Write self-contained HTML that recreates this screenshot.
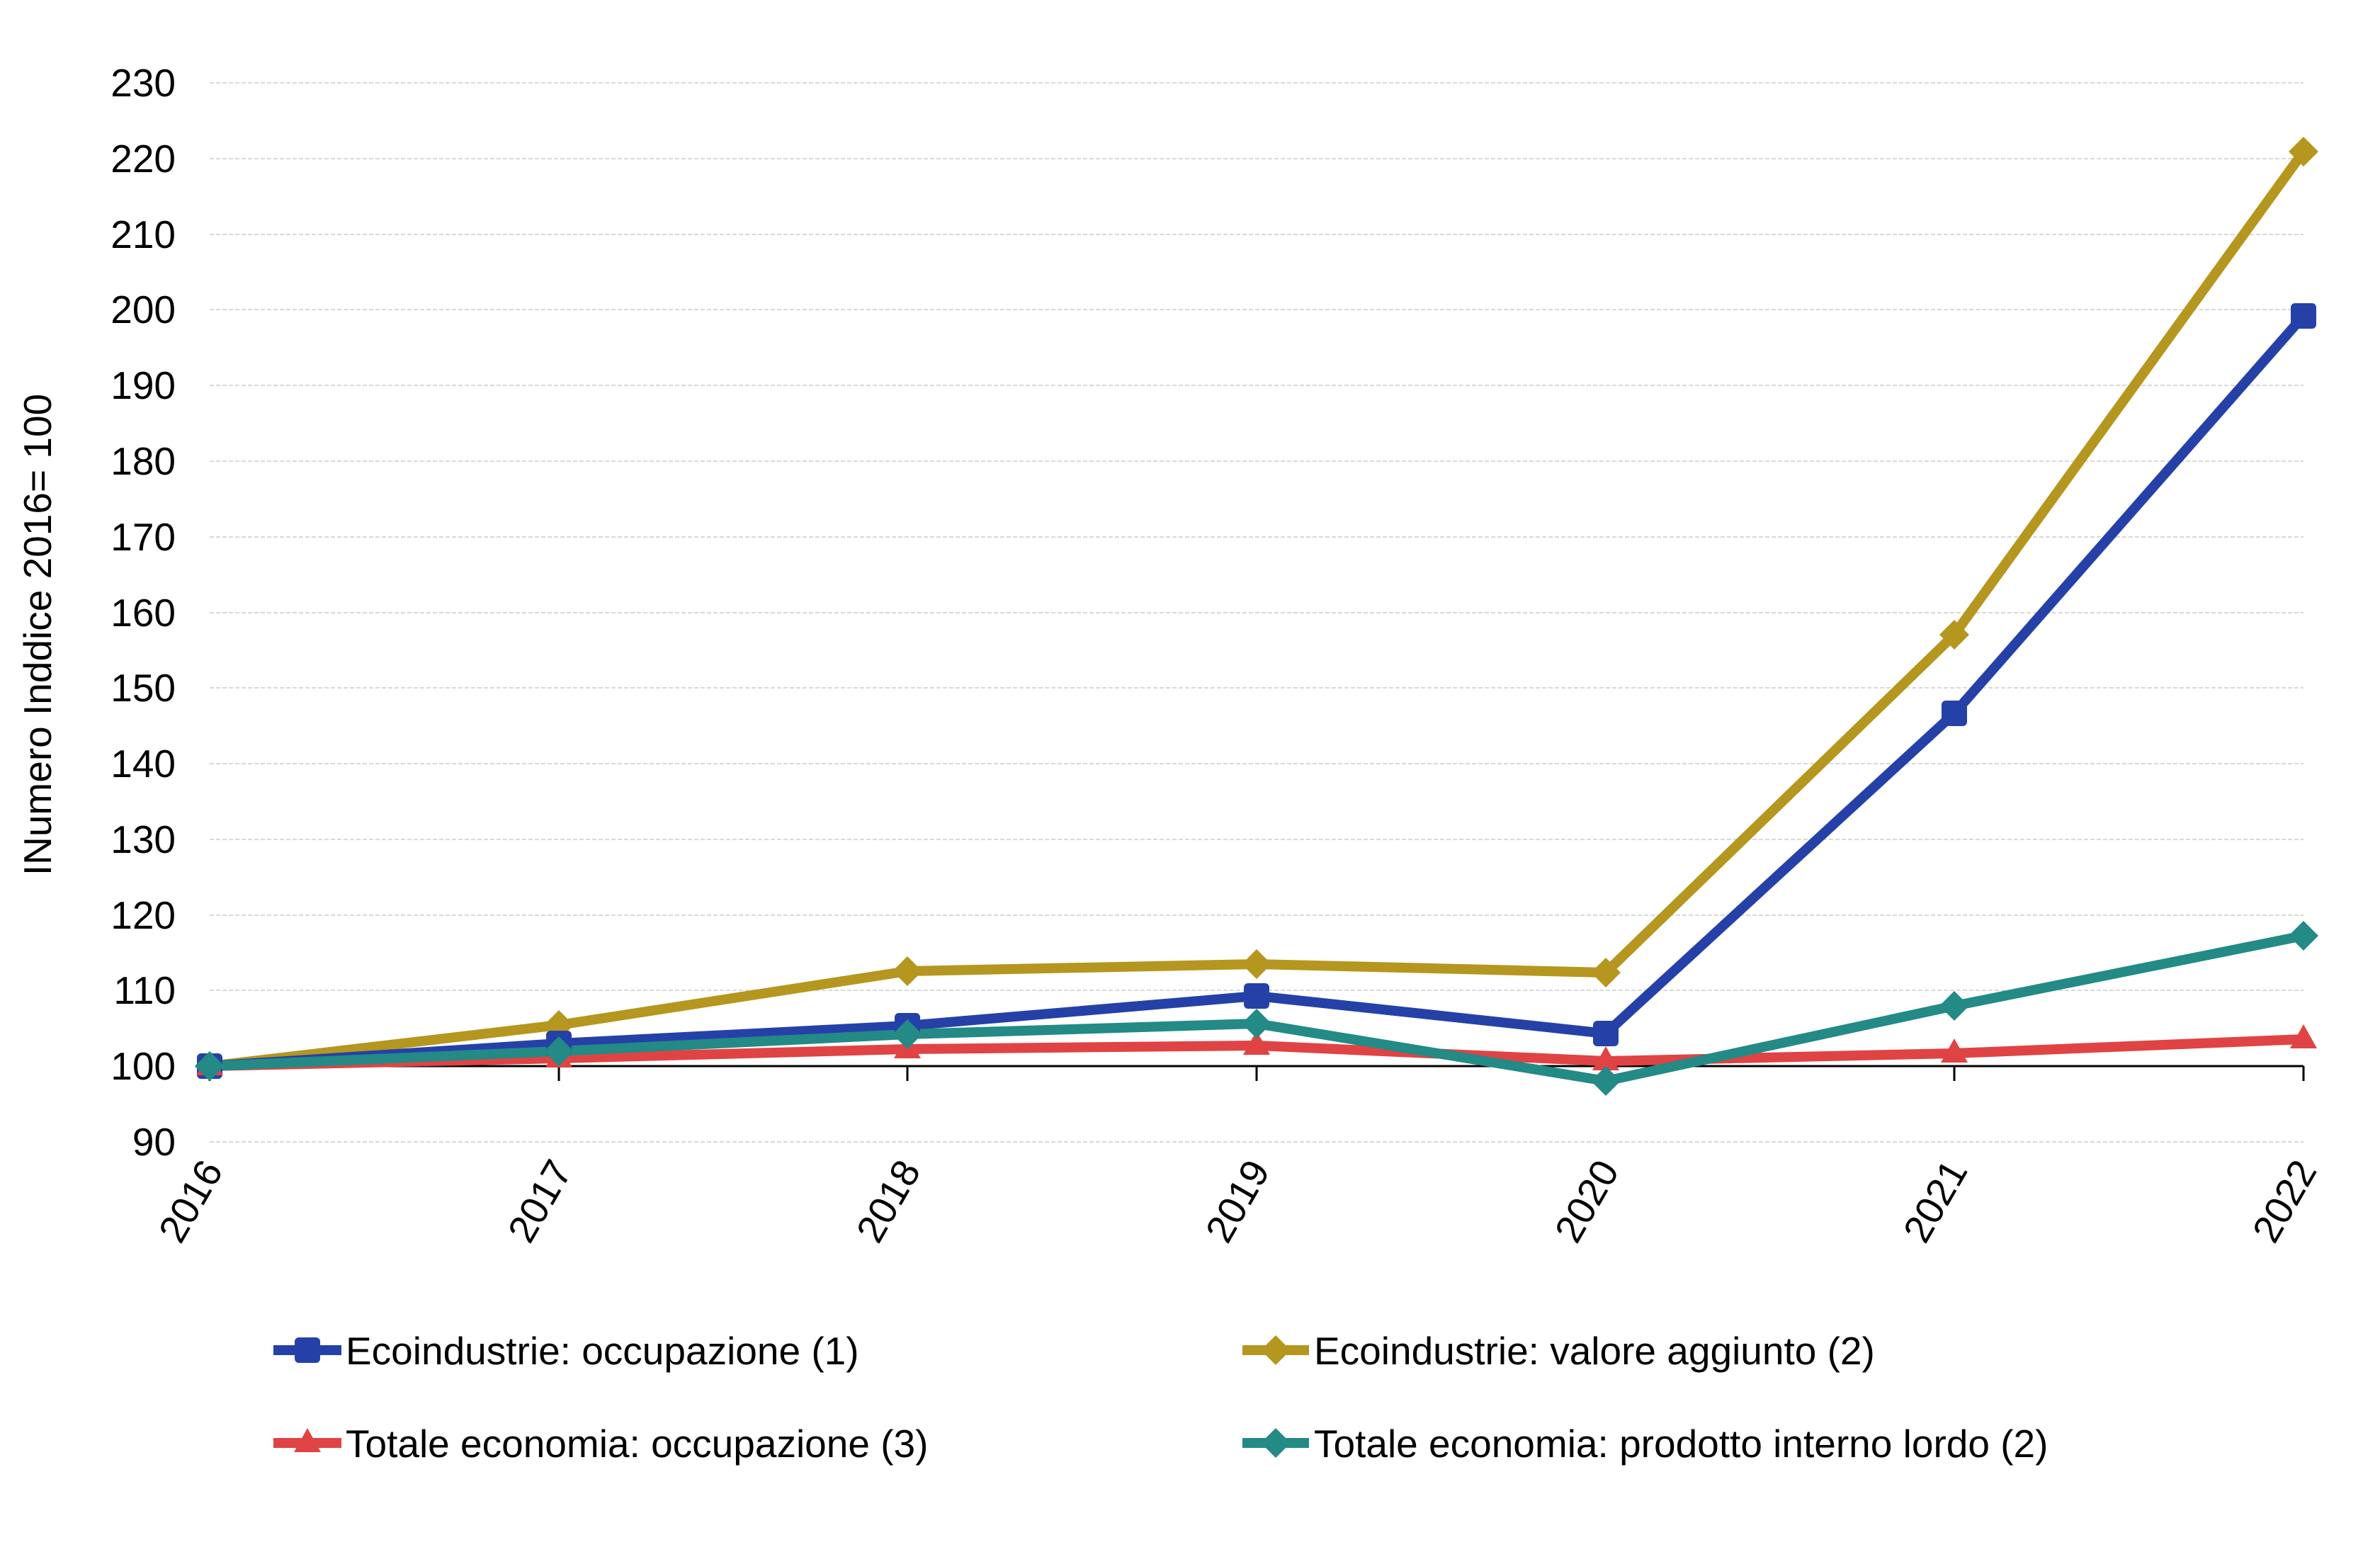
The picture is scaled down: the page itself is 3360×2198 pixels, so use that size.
<!DOCTYPE html>
<html><head><meta charset="utf-8"><style>body{margin:0;background:#fff}svg{display:block}text{font-family:"Liberation Sans",Arial,sans-serif;fill:#000}</style></head><body>
<svg width="3360" height="2198" viewBox="0 0 3360 2198">
<g stroke="#d9d9d9" stroke-width="2" stroke-dasharray="6 3">
<line x1="296" x2="3252" y1="117" y2="117"/><line x1="296" x2="3252" y1="224" y2="224"/><line x1="296" x2="3252" y1="331" y2="331"/><line x1="296" x2="3252" y1="437" y2="437"/><line x1="296" x2="3252" y1="544" y2="544"/><line x1="296" x2="3252" y1="651" y2="651"/><line x1="296" x2="3252" y1="758" y2="758"/><line x1="296" x2="3252" y1="865" y2="865"/><line x1="296" x2="3252" y1="971" y2="971"/><line x1="296" x2="3252" y1="1078" y2="1078"/><line x1="296" x2="3252" y1="1185" y2="1185"/><line x1="296" x2="3252" y1="1292" y2="1292"/><line x1="296" x2="3252" y1="1398" y2="1398"/><line x1="296" x2="3252" y1="1612" y2="1612"/>
</g>
<g stroke="#000" stroke-width="3">
<line x1="296" x2="3252" y1="1505" y2="1505"/>
<line x1="296" x2="296" y1="1505" y2="1526"/><line x1="789" x2="789" y1="1505" y2="1526"/><line x1="1281" x2="1281" y1="1505" y2="1526"/><line x1="1774" x2="1774" y1="1505" y2="1526"/><line x1="2267" x2="2267" y1="1505" y2="1526"/><line x1="2759" x2="2759" y1="1505" y2="1526"/><line x1="3252" x2="3252" y1="1505" y2="1526"/>
</g>
<g font-size="55" text-anchor="end">
<text x="248" y="136">230</text><text x="248" y="243">220</text><text x="248" y="350">210</text><text x="248" y="456">200</text><text x="248" y="563">190</text><text x="248" y="670">180</text><text x="248" y="777">170</text><text x="248" y="884">160</text><text x="248" y="990">150</text><text x="248" y="1097">140</text><text x="248" y="1204">130</text><text x="248" y="1311">120</text><text x="248" y="1417">110</text><text x="248" y="1524">100</text><text x="248" y="1631">90</text>
</g>
<text font-size="55" transform="translate(72,896) rotate(-90)" text-anchor="middle">INumero Inddice 2016= 100</text>
<g font-size="55" text-anchor="end">
<text transform="translate(316,1652) rotate(-60)">2016</text><text transform="translate(809,1652) rotate(-60)">2017</text><text transform="translate(1301,1652) rotate(-60)">2018</text><text transform="translate(1794,1652) rotate(-60)">2019</text><text transform="translate(2287,1652) rotate(-60)">2020</text><text transform="translate(2779,1652) rotate(-60)">2021</text><text transform="translate(3272,1652) rotate(-60)">2022</text>
</g>
<defs>
<rect id="sq" x="-18" y="-18" width="36" height="36" rx="6"/>
<path id="di" d="M0,-21 L21,0 L0,21 L-21,0Z"/>
<path id="tr" d="M0,-21 L19,13 L-19,13Z"/>
</defs>
<g fill="none" stroke-width="14" stroke-linejoin="round">
<polyline stroke="#b5961f" points="296,1505 789,1447 1281,1371 1774,1361 2267,1373 2759,896 3252,214"/>
<polyline stroke="#2541a8" points="296,1505 789,1473 1281,1448 1774,1406 2267,1459 2759,1007 3252,446"/>
<polyline stroke="#e04344" points="296,1505 789,1494 1281,1481 1774,1476 2267,1498 2759,1487 3252,1467"/>
<polyline stroke="#238a86" points="296,1505 789,1484 1281,1460 1774,1445 2267,1526 2759,1420 3252,1321"/>
</g>
<g fill="#b5961f"><use href="#di" x="296" y="1505"/><use href="#di" x="789" y="1447"/><use href="#di" x="1281" y="1371"/><use href="#di" x="1774" y="1361"/><use href="#di" x="2267" y="1373"/><use href="#di" x="2759" y="896"/><use href="#di" x="3252" y="214"/></g>
<g fill="#2541a8"><use href="#sq" x="296" y="1505"/><use href="#sq" x="789" y="1473"/><use href="#sq" x="1281" y="1448"/><use href="#sq" x="1774" y="1406"/><use href="#sq" x="2267" y="1459"/><use href="#sq" x="2759" y="1007"/><use href="#sq" x="3252" y="446"/></g>
<g fill="#e04344"><use href="#tr" x="296" y="1505"/><use href="#tr" x="789" y="1494"/><use href="#tr" x="1281" y="1481"/><use href="#tr" x="1774" y="1476"/><use href="#tr" x="2267" y="1498"/><use href="#tr" x="2759" y="1487"/><use href="#tr" x="3252" y="1467"/></g>
<g fill="#238a86"><use href="#di" x="296" y="1505"/><use href="#di" x="789" y="1484"/><use href="#di" x="1281" y="1460"/><use href="#di" x="1774" y="1445"/><use href="#di" x="2267" y="1526"/><use href="#di" x="2759" y="1420"/><use href="#di" x="3252" y="1321"/></g>
<g stroke-width="14">
<line x1="386" x2="482" y1="1906" y2="1906" stroke="#2541a8"/><line x1="1754" x2="1848" y1="1906" y2="1906" stroke="#b5961f"/>
<line x1="386" x2="482" y1="2037" y2="2037" stroke="#e04344"/><line x1="1754" x2="1848" y1="2037" y2="2037" stroke="#238a86"/>
</g>
<use href="#sq" x="434" y="1906" fill="#2541a8"/><use href="#di" x="1801" y="1906" fill="#b5961f"/>
<use href="#tr" x="434" y="2037" fill="#e04344"/><use href="#di" x="1801" y="2037" fill="#238a86"/>
<g font-size="55">
<text x="488" y="1926">Ecoindustrie: occupazione (1)</text>
<text x="1855" y="1926">Ecoindustrie: valore aggiunto (2)</text>
<text x="488" y="2057">Totale economia: occupazione (3)</text>
<text x="1855" y="2057">Totale economia: prodotto interno lordo (2)</text>
</g>
</svg>
</body></html>
